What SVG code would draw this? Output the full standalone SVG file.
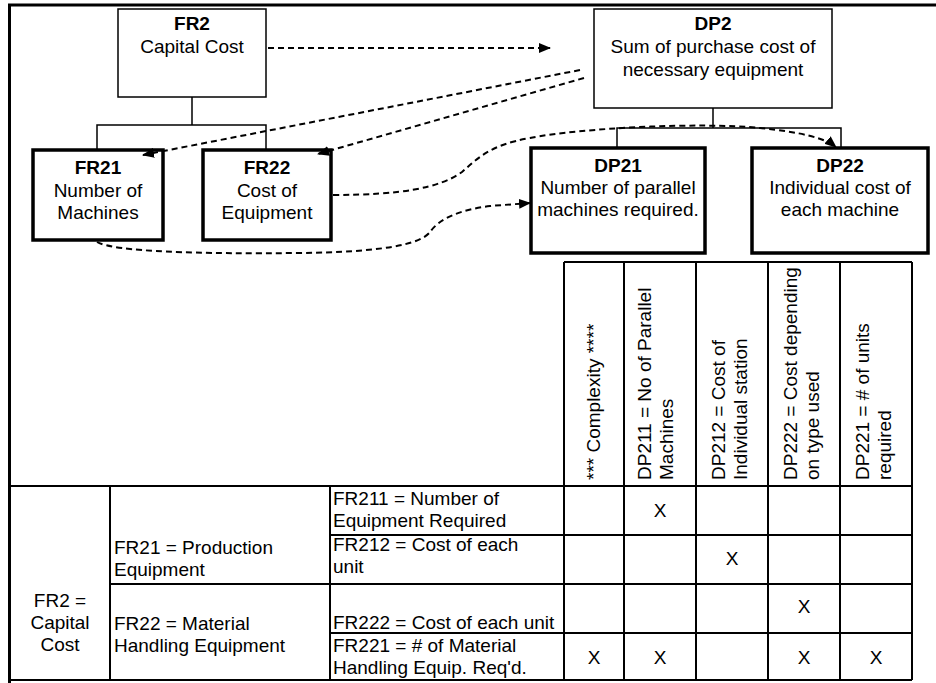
<svg xmlns="http://www.w3.org/2000/svg" width="936" height="683" viewBox="0 0 936 683">
<defs>
<style>
text{font-family:"Liberation Sans",Arial,sans-serif;font-size:19px;fill:#000}
.c{text-anchor:middle}
.b{font-weight:bold}
.thin{fill:#fff;stroke:#000;stroke-width:1.5}
.thick{fill:#fff;stroke:#000;stroke-width:3.5}
.tree{fill:none;stroke:#000;stroke-width:1.5}
.dash{fill:none;stroke:#000;stroke-width:2;stroke-dasharray:6 4}
.grid{stroke:#000;stroke-width:2;fill:none}
</style>
<marker id="ah" viewBox="0 0 12 10" refX="11" refY="5" markerWidth="12" markerHeight="10" markerUnits="userSpaceOnUse" orient="auto">
<path d="M0,0 L12,5 L0,10 Z" fill="#000"/>
</marker>
</defs>
<rect width="936" height="683" fill="#fff"/>
<g id="frame">
<line x1="8" y1="5" x2="936" y2="5" stroke="#000" stroke-width="3"/>
<line x1="9.5" y1="4" x2="9.5" y2="683" stroke="#000" stroke-width="3"/>
</g>
<g id="tree-lines">
<path class="tree" d="M192,97 V125 M97,150 V125 H266 V150"/>
<path class="tree" d="M713,108 V128 M617,148 V128 H841 V148"/>
</g>
<g id="FR2">
<rect class="thin" x="118" y="9" width="148" height="88"/>
<text class="c b" x="192" y="30">FR2</text>
<text class="c" x="192" y="53">Capital Cost</text>
</g>
<g id="DP2">
<rect class="thin" x="594" y="9" width="238" height="99"/>
<text class="c b" x="713" y="30">DP2</text>
<text class="c" x="713" y="53">Sum of purchase cost of</text>
<text class="c" x="713" y="76">necessary equipment</text>
</g>
<g id="FR21">
<rect class="thick" x="33" y="150" width="130" height="90"/>
<text class="c b" x="98" y="174">FR21</text>
<text class="c" x="98" y="197">Number of</text>
<text class="c" x="98" y="219">Machines</text>
</g>
<g id="FR22">
<rect class="thick" x="203" y="150" width="128" height="90"/>
<text class="c b" x="267" y="174">FR22</text>
<text class="c" x="267" y="197">Cost of</text>
<text class="c" x="267" y="219">Equipment</text>
</g>
<g id="DP21">
<rect class="thick" x="531" y="148" width="174" height="105"/>
<text class="c b" x="618" y="172">DP21</text>
<text class="c" x="618" y="194">Number of parallel</text>
<text class="c" x="618" y="216">machines required.</text>
</g>
<g id="DP22">
<rect class="thick" x="752" y="148" width="176" height="105"/>
<text class="c b" x="840" y="172">DP22</text>
<text class="c" x="840" y="194">Individual cost of</text>
<text class="c" x="840" y="216">each machine</text>
</g>
<g id="connectors">
<path class="dash" marker-end="url(#ah)" d="M268,48 H550"/>
<path class="dash" marker-end="url(#ah)" d="M580,70 L143,155"/>
<path class="dash" marker-end="url(#ah)" d="M584,78 L318,154"/>
<path class="dash" marker-end="url(#ah)" d="M333,195 C400,195 440,188 462,172 C478,158 490,145 530,138 C580,128 700,122 760,128 C800,132 825,138 836,147"/>
<path class="dash" marker-end="url(#ah)" d="M97,242 C115,252 200,254 300,253 C380,252 420,245 430,232 C440,218 460,210 490,206 L530,203"/>
</g>
<g id="matrix">
<path class="grid" d="M564,262 H912 M10,486 H912 M330,535 H912 M110,584 H912 M330,633 H912 M10,680 H912"/>
<path class="grid" d="M110,486 V680 M330,486 V680 M564,262 V680 M624,262 V680 M696,262 V680 M768,262 V680 M840,262 V680 M912,262 V680"/>
<text transform="translate(600,480) rotate(-90)">*** Complexity ****</text>
<text transform="translate(651,480) rotate(-90)"><tspan x="0" y="0">DP211 = No of Parallel</tspan><tspan x="0" y="22">Machines</tspan></text>
<text transform="translate(725,480) rotate(-90)"><tspan x="0" y="0">DP212 = Cost of</tspan><tspan x="0" y="22">Individual station</tspan></text>
<text transform="translate(797,480) rotate(-90)"><tspan x="0" y="0">DP222 = Cost depending</tspan><tspan x="0" y="22">on type used</tspan></text>
<text transform="translate(869,480) rotate(-90)"><tspan x="0" y="0">DP221 = # of units</tspan><tspan x="0" y="22">required</tspan></text>
<text class="c" x="60" y="607">FR2 =</text>
<text class="c" x="60" y="629">Capital</text>
<text class="c" x="60" y="651">Cost</text>
<text x="114" y="554">FR21 = Production</text>
<text x="114" y="576">Equipment</text>
<text x="114" y="630">FR22 = Material</text>
<text x="114" y="652">Handling Equipment</text>
<text x="333" y="505">FR211 = Number of</text>
<text x="333" y="527">Equipment Required</text>
<text x="333" y="551">FR212 = Cost of each</text>
<text x="333" y="573">unit</text>
<text x="333" y="629">FR222 = Cost of each unit</text>
<text x="333" y="652">FR221 = # of Material</text>
<text x="333" y="674">Handling Equip. Req'd.</text>
<text class="c" x="660" y="517">X</text>
<text class="c" x="732" y="565">X</text>
<text class="c" x="804" y="613">X</text>
<text class="c" x="594" y="664">X</text>
<text class="c" x="660" y="664">X</text>
<text class="c" x="804" y="664">X</text>
<text class="c" x="876" y="664">X</text>
</g>
</svg>
